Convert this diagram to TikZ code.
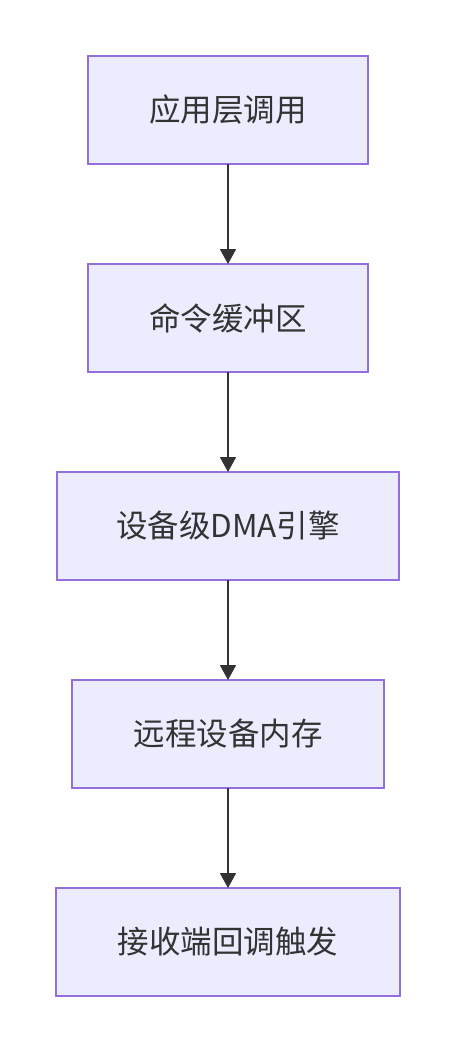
\documentclass[tikz,border=0pt]{standalone}
\usepackage{fontspec}
\setmainfont{Noto Sans CJK SC}
\usepackage{tikz}
\usetikzlibrary{arrows.meta, positioning}
\definecolor{boxpurple}{HTML}{9370DB}
\definecolor{lightpurple}{HTML}{ECECFF}
\definecolor{darkgray}{HTML}{333333}

\begin{document}
\begin{tikzpicture}[
			x=1pt, y=1pt,
			node distance=100pt,
			font=\fontsize{31.5}{38}\selectfont,
			box/.style={draw=boxpurple, fill=lightpurple, line width=2pt, outer sep=0pt,
				minimum height=108pt, inner sep=0pt, text=darkgray, align=center}
			]

			\useasboundingbox (0,0) rectangle (456,-1052);

			\node[box, minimum width=280pt] (app) at (228,-110) {应用层调用};
			\node[box, minimum width=280pt, below=of app] (cmdbuf) {命令缓冲区};
			\node[box, minimum width=342pt, below=of cmdbuf] (dma) {设备级DMA引擎};
			\node[box, minimum width=312pt, below=of dma] (remote) {远程设备内存};
			\node[box, minimum width=344pt, below=of remote] (cb) {接收端回调触发};

			\foreach \a/\b in {app/cmdbuf, cmdbuf/dma, dma/remote, remote/cb} {
				\draw[-{Triangle[length=15pt, width=16pt]}, line width=2pt, darkgray] (\a) -- (\b);
			}

		\end{tikzpicture}
\end{document}
